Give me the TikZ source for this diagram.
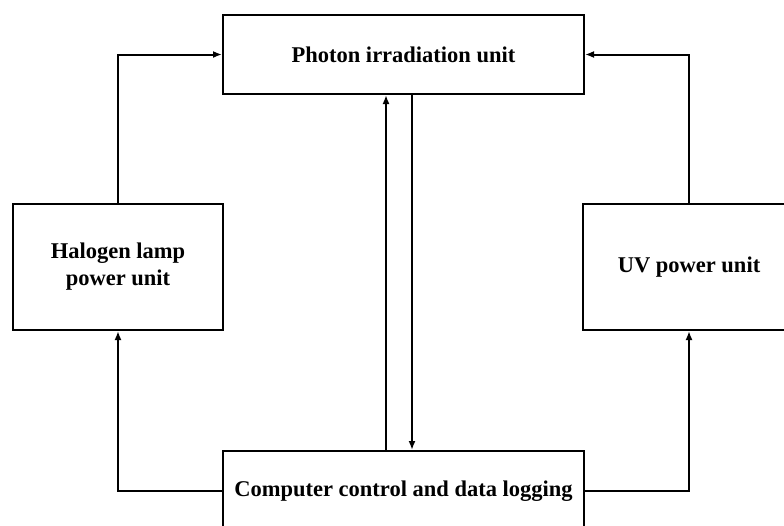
\documentclass[tikz,border=0pt]{standalone}
\usepackage{fontspec}
\setmainfont{Liberation Serif}
\usetikzlibrary{arrows.meta}
\tikzset{
  unit/.style={draw, line width=2pt, align=center, inner sep=0pt,
    font=\bfseries\fontsize{22.5}{27}\selectfont},
  link/.style={line width=2pt, -{Latex[length=9pt,width=7pt]}}
}
\begin{document}
\begin{tikzpicture}[x=1pt,y=-1pt]
  \useasboundingbox (0,0) rectangle (784,525);
  \clip (0,0) rectangle (784,525);
  \node[unit, minimum width=361pt, minimum height=79pt] (photon) at (403.5,54.5) {Photon irradiation unit};
  \node[unit, minimum width=210pt, minimum height=126pt] (halogen) at (118,267) {Halogen lamp\\power unit};
  \node[unit, minimum width=212pt, minimum height=126pt] (uv) at (689,267) {UV power unit};
  \node[unit, minimum width=361pt, minimum height=80pt] (computer) at (403.5,491) {Computer control and data logging};
  \draw[link] (halogen.north) |- (photon.west);
  \draw[link] (uv.north) |- (photon.east);
  \draw[link] (computer.west) -| (halogen.south);
  \draw[link] (computer.east) -| (uv.south);
  \draw[link] ([xshift=-17.5pt]computer.north) -- ([xshift=-17.5pt]photon.south);
  \draw[link] ([xshift=8.5pt]photon.south) -- ([xshift=8.5pt]computer.north);
\end{tikzpicture}
\end{document}
